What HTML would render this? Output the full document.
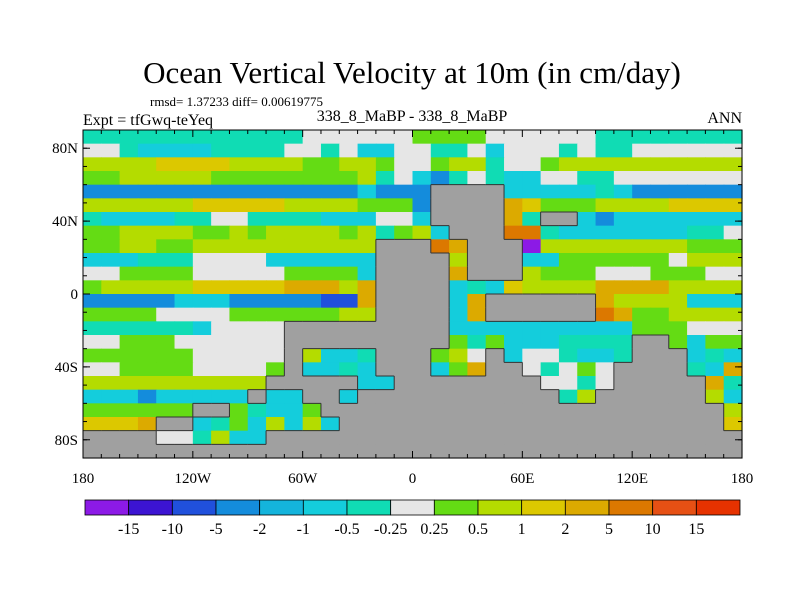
<!DOCTYPE html>
<html><head><meta charset="utf-8"><style>
body{margin:0;background:#fff;}
svg text{font-family:"Liberation Serif",serif;fill:#000;}
</style></head><body>
<svg id="chart" width="800" height="600" viewBox="0 0 800 600">
<text x="412" y="83" font-size="31" text-anchor="middle">Ocean Vertical Velocity at 10m (in cm/day)</text>
<text x="150" y="106" font-size="13">rmsd= 1.37233 diff= 0.00619775</text>
<text x="83" y="125" font-size="16">Expt = tfGwq-teYeq</text>
<text x="412" y="121" font-size="16" text-anchor="middle">338_8_MaBP - 338_8_MaBP</text>
<text x="742" y="123" font-size="16" text-anchor="end">ANN</text>
<g id="map"></g>
<g id="coast"></g>
<rect x="83" y="130" width="659" height="328" fill="none" stroke="#000" stroke-width="1"/>
<g id="ticks"></g>
<g id="cbar"></g>
</svg>
<script>
// ---- data ----
const levelLabels = ["-15","-10","-5","-2","-1","-0.5","-0.25","0.25","0.5","1","2","5","10","15"];
const levelColors = ["#8c1ae6","#3c14d2","#2050dc","#148cdc","#14b4dc","#14cddc","#10dcb4","#e6e6e6","#64dc14","#b4dc00","#dcc800","#dcaa00","#dc7800","#e65014","#e63200"];
const latTicks = [80,40,0,-40,-80];
const latTickLabels = ["80N","40N","0","40S","80S"];
const lonTicks = [-180,-120,-60,0,60,120,180];
const lonTickLabels = ["180","120W","60W","0","60E","120E","180"];
// grid rows: 36 cols (10 deg lon) in 6 groups of 6, 24 rows (7.5 deg lat), north to south
const charLevel = {P:0,D:2,B:3,b:5,c:6,".":7,g:8,y:9,o:10,O:11,r:12};
const fieldRows = [
["cccccc","cccccc","......","gggg..","....cc","cccccc"],
["..cbbb","bcccc.",".c.bb.",".cc.b.","..c.cc","......"],
["yyyyoo","ooyyyy","ggyyg.",".gyyc.",".gyyyy","yyyyyy"],
["ggyyyy","yggggg","gggyc.","bBc.cb","b..cc.","......"],
["BBBBBB","BBBBBB","BBBbBB","B####b","bbbbcb","BBBBBB"],
["yyyyyy","oooooy","yyyggg","B####O","ogggyy","yyoooo"],
["cbbbbc","c..ccc","cbbb..","b####O","c##bBb","bbbbbb"],
["ggyyyy","ggygyy","yygycg","yb###r","rcbbbb","bbbcc."],
["ggyygg","yyyyyy","yyyy##","#rO###","Pyyyyy","yyyggg"],
["bbbccc","....bb","bbbb##","##y###","bbgggg","gg.yyy"],
["..gggg",".....g","gggb##","##O###","yggg..",".ggg.."],
["gyyyyy","oooooO","OOyO##","##bcbo","yyyyOO","OOyyyy"],
["BBBBBb","bbBBBB","BDDO##","##bO##","####Oy","yyybbb"],
["gggg..","..gggg","ggyy##","##bO##","####rO","ggyyyy"],
["cccccc","b....#","######","##bbbb","bbbbbb","ggg..."],
["..ggg.",".....#","######","##gcgb","bbcccc","##gbgg"],
["gggggg",".....#","ybbc##","#gy.#b","..cbbc","###bcb"],
["..gggg","....g#","bbcb##","#bgO##",".c.g.#","###cbO"],
["yyyyyy","yyyy##","###bb#","######","#..c.#","####Oc"],
["bbbBbb","bbb#bb","##b###","######","##cy##","####yb"],
["gggggg","##gcbb","g#####","######","######","#####y"],
["oooO##","bcgbyb","yb####","######","######","#####o"],
["####..","cybb##","######","######","######","######"],
["######","######","######","######","######","######"]
];
// ---- scales ----
const X0=83,W=659,Y0=130,H=328;
function xScale(lon){return X0+(lon+180)/360*W;}
function yScale(lat){return Y0+(90-lat)/180*H;}
const NS="http://www.w3.org/2000/svg";
function mk(tag,attrs,parent){const e=document.createElementNS(NS,tag);for(const k in attrs)e.setAttribute(k,attrs[k]);parent.appendChild(e);return e;}
const map=document.getElementById('map'),coast=document.getElementById('coast');
const NC=36,NR=fieldRows.length,dLon=10,dLat=7.5;
const grid=fieldRows.map(r=>{let s=r.join('').slice(0,NC);while(s.length<NC)s+='#';return s;});
function isLand(r,c){return r>=0&&r<NR&&c>=0&&c<NC&&grid[r][c]==='#';}
for(let r=0;r<NR;r++){for(let c=0;c<NC;c++){
  const ch=grid[r][c];
  const x1=xScale(-180+c*dLon),x2=xScale(-180+(c+1)*dLon);
  const y1=yScale(90-r*dLat),y2=yScale(90-(r+1)*dLat);
  const fill=ch==='#'?'#a0a0a0':levelColors[charLevel[ch]??7];
  const cell=mk('rect',{x:x1,y:y1,width:x2-x1+0.6,height:y2-y1+0.6,fill:fill},map);
  
  
  if(ch==='#'){
    const st={stroke:'#333','stroke-width':1};
    if(!isLand(r-1,c)&&r>0)mk('line',Object.assign({x1:x1,y1:y1,x2:x2,y2:y1},st),coast);
    if(!isLand(r+1,c)&&r<NR-1)mk('line',Object.assign({x1:x1,y1:y2,x2:x2,y2:y2},st),coast);
    if(!isLand(r,c-1)&&c>0)mk('line',Object.assign({x1:x1,y1:y1,x2:x1,y2:y2},st),coast);
    if(!isLand(r,c+1)&&c<NC-1)mk('line',Object.assign({x1:x2,y1:y1,x2:x2,y2:y2},st),coast);
  }
}}
// ticks
const tk=document.getElementById('ticks');
for(let lon=-180;lon<=180;lon+=10){
  const x=xScale(lon),len=(lon%60===0)?7:4;
  mk('line',{x1:x,y1:Y0,x2:x,y2:Y0+len,stroke:'#000'},tk);
  mk('line',{x1:x,y1:Y0+H,x2:x,y2:Y0+H-len,stroke:'#000'},tk);
}
for(let lat=-90;lat<=90;lat+=10){
  const y=yScale(lat),len=4;
  mk('line',{x1:X0,y1:y,x2:X0+len,y2:y,stroke:'#000'},tk);
  mk('line',{x1:X0+W,y1:y,x2:X0+W-len,y2:y,stroke:'#000'},tk);
}
latTicks.forEach((lat,i)=>{
  const y=yScale(lat);
  mk('line',{x1:X0,y1:y,x2:X0+7,y2:y,stroke:'#000'},tk);
  mk('line',{x1:X0+W,y1:y,x2:X0+W-7,y2:y,stroke:'#000'},tk);
  const t=mk('text',{x:X0-5,y:y+5,'font-size':15,'text-anchor':'end'},tk);
  t.textContent=latTickLabels[i];
  
  
});
lonTicks.forEach((lon,i)=>{
  const t=mk('text',{x:xScale(lon),y:Y0+H+25,'font-size':15,'text-anchor':'middle'},tk);
  t.textContent=lonTickLabels[i];
  
  
});
// colorbar
const cb=document.getElementById('cbar');
const CX=85,CW=655,CY=500,CH=15,n=levelColors.length,bw=CW/n;
levelColors.forEach((col,i)=>{
  const r=mk('rect',{x:CX+i*bw,y:CY,width:bw,height:CH,fill:col,stroke:'#000','stroke-width':0.8},cb);
  
  
});
levelLabels.forEach((lab,i)=>{
  const t=mk('text',{x:CX+(i+1)*bw,y:CY+CH+19,'font-size':16,'text-anchor':'middle'},cb);
  t.textContent=lab;
  
  
});
</script>
</body></html>
